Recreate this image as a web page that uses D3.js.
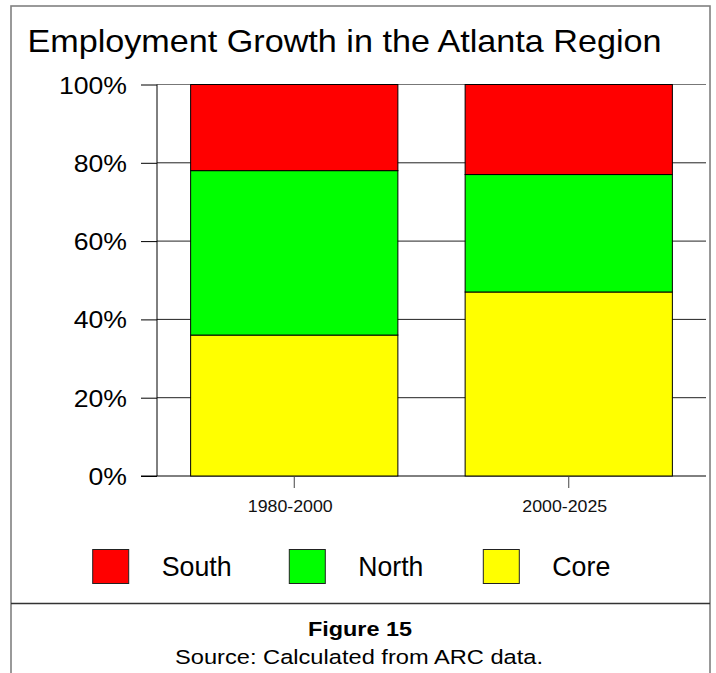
<!DOCTYPE html>
<html>
<head>
<meta charset="utf-8">
<script src="https://cdn.jsdelivr.net/npm/d3@7"></script>
<style>
  html, body { margin: 0; padding: 0; background: #fff; }
  svg { display: block; font-family: "Liberation Sans", Arial, sans-serif; }
</style>
</head>
<body>
<svg id="chart" width="716" height="673"></svg>
<script>
// Share of regional employment growth by sub-area (percent of total)
const periods = ["1980-2000", "2000-2025"];
const core  = [36, 47];
const north = [42, 30];
const south = [22, 23];
const yTicks = [0, 20, 40, 60, 80, 100];

const seriesNames  = ["Core", "North", "South"];
const seriesColors = { Core: "#ffff00", North: "#00ff00", South: "#ff0000" };
const legendOrder  = ["South", "North", "Core"];

const rows = periods.map((p, i) => ({ period: p, Core: core[i], North: north[i], South: south[i] }));
const stacked = d3.stack().keys(seriesNames)(rows);

const svg = d3.select("#chart");

// plot frame
const plot = { left: 157, right: 706, top: 84.5, bottom: 476 };

const x = d3.scaleBand()
  .domain(periods)
  .range([plot.left, plot.right])
  .paddingInner(0.245)
  .paddingOuter(0.1225);

const y = d3.scaleLinear().domain([0, 100]).range([plot.bottom, plot.top]);

// stretch a text node to a given drawn width
function fit(sel, w) {
  sel.attr("textLength", w).attr("lengthAdjust", "spacingAndGlyphs");
}

// outer frame and caption divider
svg.append("rect")
  .attr("x", 11).attr("y", 6).attr("width", 699).attr("height", 700)
  .attr("fill", "none").attr("stroke", "#808080").attr("stroke-width", 1.6);
svg.append("line")
  .attr("x1", 11).attr("x2", 710).attr("y1", 603.5).attr("y2", 603.5)
  .attr("stroke", "#333").attr("stroke-width", 1.4);

// title
svg.append("text")
  .attr("x", 27.5).attr("y", 52.3)
  .attr("font-size", 30.5).attr("fill", "#000")
  .text("Employment Growth in the Atlanta Region")
  .call(fit, 634);

// horizontal gridlines
svg.append("g").selectAll("line")
  .data(yTicks.filter(t => t > 0))
  .join("line")
  .attr("x1", plot.left).attr("x2", plot.right)
  .attr("y1", d => y(d)).attr("y2", d => y(d))
  .attr("stroke", d => d === 100 ? "#777" : "#222").attr("stroke-width", 1);

// y axis
const yAxis = d3.axisLeft(y).tickValues(yTicks).tickSize(16).tickPadding(14)
  .tickFormat(d => d + "%");
const yg = svg.append("g").attr("transform", `translate(${plot.left},0)`).call(yAxis);
yg.select(".domain").attr("stroke", "#000").attr("d", `M0,${y(100)}V${y(0)}`);
yg.selectAll(".tick line").attr("stroke", "#000");
yg.selectAll(".tick text")
  .attr("font-family", "Liberation Sans, Arial, sans-serif")
  .attr("font-size", 24.5).attr("fill", "#000").attr("dy", "0.35em")
  .each(function (d) {
    const s = d3.select(this);
    const w = this.getComputedTextLength();
    s.call(fit, w * 1.086);
  });

// baseline
svg.append("line")
  .attr("x1", plot.left - 16).attr("x2", plot.right)
  .attr("y1", y(0)).attr("y2", y(0))
  .attr("stroke", "#000").attr("stroke-width", 1);

// stacked bars
svg.append("g").selectAll("g")
  .data(stacked)
  .join("g")
  .attr("fill", d => seriesColors[d.key])
  .selectAll("rect")
  .data(d => d)
  .join("rect")
  .attr("x", d => x(d.data.period))
  .attr("width", x.bandwidth())
  .attr("y", d => y(d[1]))
  .attr("height", d => y(d[0]) - y(d[1]))
  .attr("stroke", "#000").attr("stroke-width", 1);

// category axis
const xAxis = d3.axisBottom(x).tickSize(12).tickPadding(0).tickFormat("");
const xg = svg.append("g").attr("transform", `translate(0,${plot.bottom})`).call(xAxis);
xg.select(".domain").remove();
xg.selectAll(".tick line").attr("stroke", "#444");

svg.append("g").selectAll("text")
  .data(periods)
  .join("text")
  .attr("x", d => x(d) + x.bandwidth() / 2 - 4)
  .attr("y", 512.3)
  .attr("text-anchor", "middle")
  .attr("font-size", 17).attr("fill", "#111")
  .text(d => d)
  .call(fit, 85);

// legend
const legendX = { South: 92.7, North: 289.3, Core: 483.3 };
const legendW = { South: 70, North: 65, Core: 58 };
const lg = svg.append("g").selectAll("g")
  .data(legendOrder)
  .join("g")
  .attr("transform", d => `translate(${legendX[d]},549.5)`);
lg.append("rect")
  .attr("width", 36).attr("height", 34)
  .attr("fill", d => seriesColors[d])
  .attr("stroke", "#222").attr("stroke-width", 1);
lg.append("text")
  .attr("x", 69).attr("y", 26.5)
  .attr("font-size", 28).attr("fill", "#000")
  .text(d => d)
  .each(function (d) { d3.select(this).call(fit, legendW[d]); });

// caption
svg.append("text")
  .attr("x", 360).attr("y", 635.7)
  .attr("text-anchor", "middle")
  .attr("font-size", 21).attr("font-weight", "bold").attr("fill", "#000")
  .text("Figure 15")
  .call(fit, 104);
svg.append("text")
  .attr("x", 359).attr("y", 664)
  .attr("text-anchor", "middle")
  .attr("font-size", 20.5).attr("fill", "#000")
  .text("Source: Calculated from ARC data.")
  .call(fit, 368);
</script>
</body>
</html>
